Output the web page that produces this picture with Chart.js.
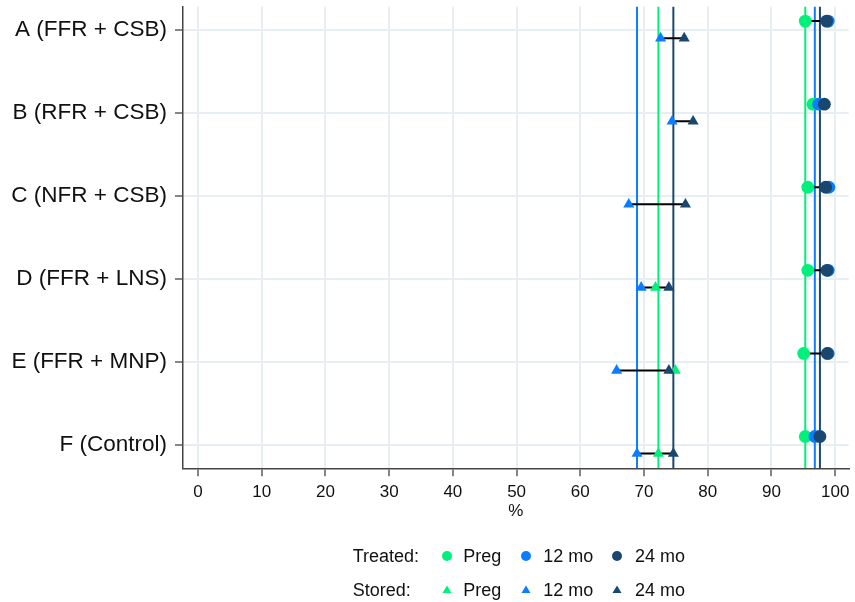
<!DOCTYPE html>
<html>
<head>
<meta charset="utf-8">
<script src="https://cdn.jsdelivr.net/npm/chart.js@4/dist/chart.umd.min.js"></script>
<style>
  html, body { margin: 0; padding: 0; background: #fff; }
  #wrap { position: relative; width: 855px; height: 602px; font-family: "Liberation Sans", Arial, sans-serif; }
  #legend span { position: absolute; font-size: 18px; line-height: 20px; color: #111; white-space: nowrap; }
  #legend svg { position: absolute; overflow: visible; }
</style>
</head>
<body>
<div id="wrap">
  <canvas id="chart" width="855" height="602"></canvas>
  <div id="legend"></div>
</div>
<script>
// Groups, top to bottom
const categories = ['A (FFR + CSB)', 'B (RFR + CSB)', 'C (NFR + CSB)', 'D (FFR + LNS)', 'E (FFR + MNP)', 'F (Control)'];

// Treated samples (%)
const treatedPreg = [95.3, 96.5, 95.7, 95.7, 95.05, 95.3];
const treated12 = [98.9, 97.4, 99.0, 98.9, 98.9, 96.8];
const treated24 = [98.65, 98.3, 98.5, 98.7, 98.75, 97.6];

// Stored samples (%); no pregnancy value for the CSB groups
const storedPreg = [null, null, null, 71.8, 74.9, 72.25];
const stored12 = [72.6, 74.4, 67.6, 69.55, 65.7, 68.9];
const stored24 = [76.3, 77.7, 76.5, 73.9, 73.9, 74.6];

// Axis ticks
const xTicks = [0, 10, 20, 30, 40, 50, 60, 70, 80, 90, 100];
const xMin = -2.35, xMax = 102.1;
const yMin = 0.72, yMax = 6.28;

// Reference lines sit at the control group's values
const controlIndex = categories.length - 1;

const COL = { preg: '#00f07c', m12: '#0b7dff', m24: '#1a476f' };
const treatedOffset = -0.103, storedOffset = 0.103;

const rowOf = i => i + 1;
const toPoints = (vals, off) => vals
  .map((v, i) => (v == null ? null : { x: v, y: rowOf(i) + off }))
  .filter(p => p !== null);

const datasets = [];

// markers: 24 mo on top, then 12 mo, then pregnancy
const markerSets = [
  { vals: treated24, off: treatedOffset, color: COL.m24, style: 'circle', order: 0 },
  { vals: treated12, off: treatedOffset, color: COL.m12, style: 'circle', order: 1 },
  { vals: treatedPreg, off: treatedOffset, color: COL.preg, style: 'circle', order: 2 },
  { vals: stored24, off: storedOffset, color: COL.m24, style: 'triangle', order: 0 },
  { vals: stored12, off: storedOffset, color: COL.m12, style: 'triangle', order: 1 },
  { vals: storedPreg, off: storedOffset, color: COL.preg, style: 'triangle', order: 2 }
];
markerSets.forEach(m => {
  datasets.push({
    data: toPoints(m.vals, m.off),
    pointStyle: m.style,
    pointRadius: 6.4,
    pointBorderWidth: 0,
    backgroundColor: m.color,
    borderColor: m.color,
    showLine: false,
    order: m.order
  });
});

// black range segments from the lowest to the highest value of each group
categories.forEach((_, i) => {
  [[[treatedPreg, treated12, treated24], treatedOffset], [[storedPreg, stored12, stored24], storedOffset]]
    .forEach(([series, off]) => {
      const vals = series.map(s => s[i]).filter(v => v != null);
      if (vals.length < 2) return;
      const y = rowOf(i) + off;
      datasets.push({
        data: [{ x: Math.min(...vals), y }, { x: Math.max(...vals), y }],
        showLine: true,
        borderColor: '#000',
        borderWidth: 2,
        pointRadius: 0,
        order: 5
      });
    });
});

// vertical reference lines
[[treatedPreg, COL.preg], [treated12, COL.m12], [treated24, COL.m24],
 [storedPreg, COL.preg], [stored12, COL.m12], [stored24, COL.m24]].forEach(([s, c]) => {
  const v = s[controlIndex];
  datasets.push({
    data: [{ x: v, y: yMin }, { x: v, y: yMax }],
    showLine: true,
    borderColor: c,
    borderWidth: 2,
    pointRadius: 0,
    order: 8
  });
});

Chart.defaults.font.family = '"Liberation Sans", Arial, sans-serif';

const noEdgePadding = s => { s.paddingTop = 0; s.paddingBottom = 0; s.paddingLeft = 0; s.paddingRight = 0; };

new Chart(document.getElementById('chart'), {
  type: 'scatter',
  data: { datasets },
  options: {
    responsive: false,
    animation: false,
    events: [],
    layout: { padding: { left: 0, right: 4, top: 5, bottom: 80.8 } },
    plugins: { legend: { display: false }, tooltip: { enabled: false } },
    scales: {
      x: {
        type: 'linear',
        min: xMin,
        max: xMax,
        afterBuildTicks: s => { s.ticks = xTicks.map(v => ({ value: v })); },
        afterFit: s => { s.height = 52.9; noEdgePadding(s); },
        ticks: { font: { size: 17 }, color: '#111', padding: 6, maxRotation: 0, autoSkip: false },
        grid: { color: '#e8eff2', lineWidth: 2, tickColor: '#444', tickWidth: 1.3, tickLength: 8 },
        border: { display: true, color: '#444', width: 1.5 },
        title: { display: true, text: '%', font: { size: 17 }, color: '#111', padding: 0 }
      },
      y: {
        type: 'linear',
        reverse: true,
        min: yMin,
        max: yMax,
        afterBuildTicks: s => { s.ticks = categories.map((_, i) => ({ value: rowOf(i) })); },
        afterFit: s => { s.width = 183; noEdgePadding(s); },
        ticks: {
          font: { size: 22.5 },
          color: '#111',
          padding: 8,
          autoSkip: false,
          callback: (v, i) => categories[i]
        },
        grid: { color: '#e8eff2', lineWidth: 2, tickColor: '#444', tickWidth: 1.3, tickLength: 8 },
        border: { display: true, color: '#444', width: 1.5 }
      }
    }
  }
});

// legend: two rows, header text then three keyed entries
const legendRows = [
  { title: 'Treated:', shape: 'circle', cy: 556 },
  { title: 'Stored:', shape: 'triangle', cy: 590 }
];
const legendLabels = ['Preg', '12 mo', '24 mo'];
const legendColors = [COL.preg, COL.m12, COL.m24];
const markerX = [447.3, 526, 617.3];
const labelX = [463.3, 543.3, 635];
const legend = document.getElementById('legend');
const NS = 'http://www.w3.org/2000/svg';

legendRows.forEach(row => {
  const t = document.createElement('span');
  t.textContent = row.title;
  t.style.left = '352.7px';
  t.style.top = (row.cy - 10) + 'px';
  legend.appendChild(t);
  legendLabels.forEach((lab, k) => {
    const svg = document.createElementNS(NS, 'svg');
    svg.setAttribute('width', '12');
    svg.setAttribute('height', '12');
    svg.style.left = (markerX[k] - 6) + 'px';
    svg.style.top = (row.cy - 6) + 'px';
    let shape;
    if (row.shape === 'circle') {
      shape = document.createElementNS(NS, 'circle');
      shape.setAttribute('cx', '6');
      shape.setAttribute('cy', '6');
      shape.setAttribute('r', '5');
    } else {
      shape = document.createElementNS(NS, 'polygon');
      shape.setAttribute('points', '6,1.5 1.5,9 10.5,9');
    }
    shape.setAttribute('fill', legendColors[k]);
    svg.appendChild(shape);
    legend.appendChild(svg);
    const s = document.createElement('span');
    s.textContent = lab;
    s.style.left = labelX[k] + 'px';
    s.style.top = (row.cy - 10) + 'px';
    legend.appendChild(s);
  });
});
</script>
</body>
</html>
